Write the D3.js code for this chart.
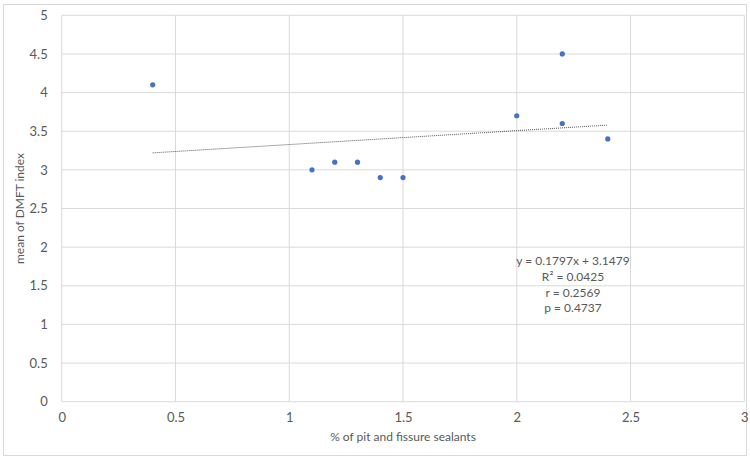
<!DOCTYPE html>
<html><head><meta charset="utf-8">
<script src="https://cdn.jsdelivr.net/npm/d3@7"></script>
<style>body{margin:0;background:#fff}svg{display:block}text{font-family:Lato,"Open Sans",sans-serif}</style>
</head><body>
<svg id="c" width="750" height="459"></svg>
<script>
const xValues = [0.4, 1.1, 1.2, 1.3, 1.4, 1.5, 2.0, 2.2, 2.2, 2.4];
const yValues = [4.1, 3.0, 3.1, 3.1, 2.9, 2.9, 3.7, 4.5, 3.6, 3.4];
const xTicks = [0, 0.5, 1, 1.5, 2, 2.5, 3];
const yTicks = [0, 0.5, 1, 1.5, 2, 2.5, 3, 3.5, 4, 4.5, 5];
const trendSlope = 0.1797, trendIntercept = 3.1479;
const statsLines = ["y = 0.1797x + 3.1479", "R² = 0.0425", "r = 0.2569", "p = 0.4737"];

const svg = d3.select("#c");
const L = 61.7, R = 744.3, T = 15.3, B = 401.7;
const x = d3.scaleLinear().domain([0, 3]).range([L, R]);
const y = d3.scaleLinear().domain([0, 5]).range([B, T]);

svg.append("rect").attr("x", 3.5).attr("y", 4.5).attr("width", 743).attr("height", 451)
  .attr("fill", "#fff").attr("stroke", "#d9d9d9");

const grid = svg.append("g");
grid.selectAll(".gx").data(xTicks).join("line")
  .attr("x1", d => x(d)).attr("x2", d => x(d)).attr("y1", T).attr("y2", B)
  .attr("stroke", "#d9d9d9").attr("stroke-width", 1);
grid.selectAll(".gy").data(yTicks).join("line")
  .attr("x1", L).attr("x2", R).attr("y1", d => y(d)).attr("y2", d => y(d))
  .attr("stroke", "#d9d9d9").attr("stroke-width", 1);

const xAxis = svg.append("g").attr("transform", `translate(0,${B})`)
  .call(d3.axisBottom(x).tickValues(xTicks).tickSize(0).tickPadding(11).tickFormat(d => String(d)));
xAxis.select(".domain").remove();
xAxis.selectAll("text").attr("fill", "#595959").style("font-size", "13px");

const yAxis = svg.append("g").attr("transform", `translate(${L},0)`)
  .call(d3.axisLeft(y).tickValues(yTicks).tickSize(0).tickPadding(14).tickFormat(d => String(d)));
yAxis.select(".domain").remove();
yAxis.selectAll("text").attr("fill", "#595959").style("font-size", "13px");

svg.append("text").attr("x", (L + R) / 2).attr("y", 441).attr("text-anchor", "middle")
  .attr("fill", "#595959").style("font-size", "12px").text("% of pit and fissure sealants");
svg.append("text").attr("transform", `translate(24,${(T + B) / 2}) rotate(-90)`).attr("text-anchor", "middle")
  .attr("fill", "#595959").style("font-size", "12px").text("mean of DMFT index");

const x0 = d3.min(xValues), x1 = d3.max(xValues);
svg.append("line")
  .attr("x1", x(x0)).attr("y1", y(trendSlope * x0 + trendIntercept))
  .attr("x2", x(x1)).attr("y2", y(trendSlope * x1 + trendIntercept))
  .attr("stroke", "#595959").attr("stroke-width", 1).attr("stroke-dasharray", "1,1");

svg.selectAll(".pt").data(xValues.map((v, i) => [v, yValues[i]])).join("circle")
  .attr("cx", d => x(d[0])).attr("cy", d => y(d[1])).attr("r", 2.6).attr("fill", "#4472C4");

svg.append("g").selectAll("text").data(statsLines).join("text")
  .attr("x", 573).attr("y", (d, i) => 265 + i * 15.8).attr("text-anchor", "middle")
  .attr("fill", "#595959").style("font-size", "12px").text(d => d);
</script>
</body></html>
